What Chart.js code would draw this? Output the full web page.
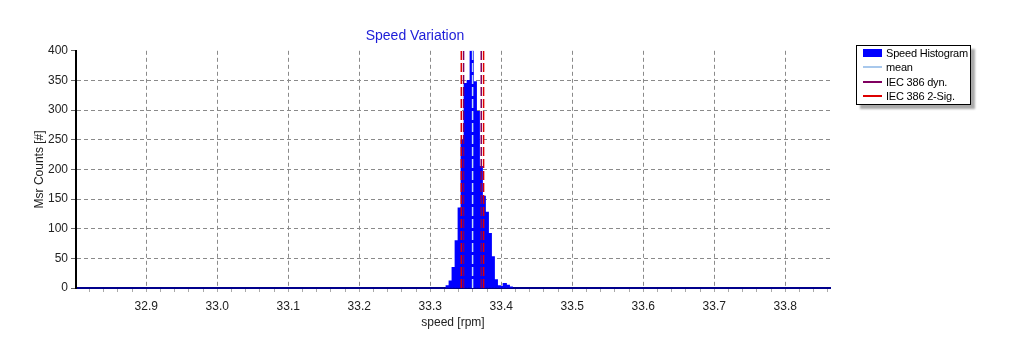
<!DOCTYPE html>
<html>
<head>
<meta charset="utf-8">
<title>Speed Variation</title>
<script src="https://cdn.jsdelivr.net/npm/chart.js@4.4.1/dist/chart.umd.min.js"></script>
<style>
    body { margin: 0; background: #fff; font-family: "Liberation Sans", Arial, sans-serif; }
    #wrap { position: relative; width: 1015px; height: 361px; }
    #chartBox { position: absolute; left: 0; top: 0; width: 858px; height: 361px; }
    #legend {
        position: absolute; left: 856px; top: 45px; width: 113px; height: 58px;
        border: 1px solid #000; background: #fff; box-shadow: 4px 4px 2px #aaa;
        font-size: 11px; letter-spacing: -0.2px; color: #000;
    }
    .item { position: absolute; left: 0; height: 14px; line-height: 14px; white-space: nowrap; }
    .item span.txt { position: absolute; left: 29px; top: 0; }
    .swatch { position: absolute; left: 6px; width: 19px; }
</style>
</head>
<body>
<div id="wrap">
    <div id="chartBox"><canvas id="speedChart" width="858" height="361"></canvas></div>
    <div id="legend">
        <div class="item" style="top:0px"><div class="swatch" style="top:3px;height:8px;background:#0000ff"></div><span class="txt">Speed Histogram</span></div>
        <div class="item" style="top:14.3px"><div class="swatch" style="top:6px;height:2px;background:#a8c8ec"></div><span class="txt">mean</span></div>
        <div class="item" style="top:28.6px"><div class="swatch" style="top:6px;height:2px;background:#800060"></div><span class="txt">IEC 386 dyn.</span></div>
        <div class="item" style="top:42.9px"><div class="swatch" style="top:6px;height:2px;background:#dd0000"></div><span class="txt">IEC 386 2-Sig.</span></div>
    </div>
</div>
<script>
// Histogram bins (speed in rpm, counts per bin)
const binCenters = [33.3246, 33.3288, 33.3330, 33.3373, 33.3415, 33.3457, 33.3500, 33.3542,
                    33.3584, 33.3627, 33.3669, 33.3711, 33.3753, 33.3796, 33.3838, 33.3880,
                    33.3923, 33.3965, 33.4007, 33.4049, 33.4092, 33.4134];
const binCounts = [4, 12, 35, 80, 135, 250, 345, 350,
                   400, 348, 298, 205, 155, 128, 92, 53,
                   14, 4, 3, 8, 5, 2];

// Marker lines
const meanSpeed = 33.3596;
const iecDynLimits = [33.3469, 33.3718];
const iec2SigLimits = [33.3437, 33.3751];

// Axis ranges
const xRange = [32.801, 33.863];
const yRange = [0, 400];

const FONT = "'Liberation Sans', Arial, sans-serif";

document.addEventListener('DOMContentLoaded', () => {
    initializeChart();
});

function isMajor(v) {
    return Math.abs(v * 10 - Math.round(v * 10)) < 1e-6;
}

function vLine(x, color, dash) {
    return {
        type: 'line',
        data: [{ x: x, y: yRange[0] }, { x: x, y: yRange[1] }],
        borderColor: color,
        borderWidth: 1.5,
        borderDash: dash,
        pointRadius: 0,
        fill: false,
        order: 1
    };
}

function initializeChart() {
    const ctx = document.getElementById('speedChart').getContext('2d');

    const datasets = [{
        type: 'bar',
        label: 'Speed Histogram',
        data: binCenters.map((x, i) => ({ x: x, y: binCounts[i] })),
        backgroundColor: '#0000ff',
        borderWidth: 0,
        barThickness: 3.6,
        order: 2
    }];
    iec2SigLimits.forEach(x => datasets.push(vLine(x, '#dd0000', [9, 3])));
    iecDynLimits.forEach(x => datasets.push(vLine(x, '#800060', [9, 3])));
    datasets.push(vLine(meanSpeed, '#c4dcf4', [9, 3]));

    window.speedChart = new Chart(ctx, {
        type: 'bar',
        data: { datasets: datasets },
        options: {
            responsive: false,
            animation: false,
            devicePixelRatio: 1,
            layout: { padding: { left: 0, right: 28, top: 0, bottom: 0 } },
            plugins: {
                legend: { display: false },
                tooltip: { enabled: false },
                title: {
                    display: true,
                    text: 'Speed Variation',
                    color: '#1c1cd8',
                    font: { family: FONT, size: 14, weight: 'normal' },
                    padding: { top: 28, bottom: 6 }
                }
            },
            scales: {
                x: {
                    type: 'linear',
                    min: xRange[0],
                    max: xRange[1],
                    offset: false,
                    afterFit: s => { s.height = 73; },
                    ticks: {
                        stepSize: 0.02,
                        includeBounds: false,
                        autoSkip: false,
                        maxRotation: 0,
                        padding: 7,
                        color: '#222',
                        font: { family: FONT, size: 12 },
                        callback: v => isMajor(v) ? v.toFixed(1) : ''
                    },
                    grid: {
                        offset: false,
                        color: c => (c.tick && isMajor(c.tick.value)) ? '#8a8a8a' : 'rgba(0,0,0,0)',
                        tickColor: '#aaa',
                        tickLength: 4
                    },
                    border: { color: '#00008c', width: 2, dash: [4, 3] },
                    title: {
                        display: true,
                        text: 'speed [rpm]',
                        color: '#222',
                        font: { family: FONT, size: 12 },
                        padding: { top: 0, bottom: 31 }
                    }
                },
                y: {
                    min: yRange[0],
                    max: yRange[1],
                    afterFit: s => { s.width = 76; },
                    ticks: {
                        stepSize: 50,
                        padding: 3,
                        color: '#222',
                        font: { family: FONT, size: 12 }
                    },
                    grid: {
                        color: c => (c.tick && c.tick.value > 0 && c.tick.value < 400) ? '#8a8a8a' : 'rgba(0,0,0,0)',
                        tickColor: '#666',
                        tickLength: 5
                    },
                    border: { color: '#000', width: 2, dash: [4, 3] },
                    title: {
                        display: true,
                        text: 'Msr Counts [#]',
                        color: '#222',
                        font: { family: FONT, size: 12 },
                        padding: { top: 32, bottom: 0 }
                    }
                }
            }
        }
    });
}
</script>
</body>
</html>
